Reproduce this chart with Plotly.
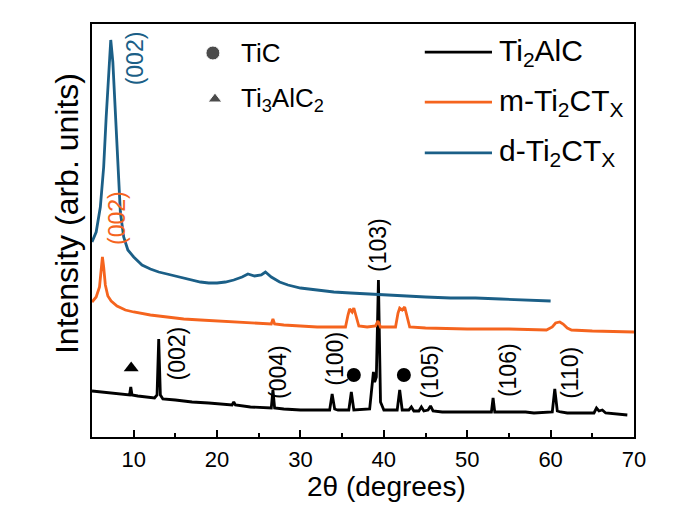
import plotly.graph_objects as go

# ---------------- data ----------------
# Ti2AlC (black)
ti2alc_x = [5, 6, 7, 8, 9, 9.5, 9.65, 9.8, 10.5, 11.5, 12.5, 12.8, 13.0, 13.2, 13.5, 15, 17, 19, 21,
            21.8, 22, 22.2, 24, 26, 26.5, 26.7, 26.9, 28, 30, 32, 33.5, 33.8, 34.1, 34.5, 35.8, 36.1,
            36.4, 38.3, 38.6, 38.75, 38.9, 39.1, 39.35, 39.6, 40, 41.6, 41.9, 42.2, 43.0, 43.3, 43.6,
            44.2, 44.5, 44.8, 45.3, 45.6, 45.9, 47, 49, 51, 52.9, 53.1, 53.3, 55, 57, 58, 60.2, 60.5,
            60.8, 61.2, 62, 65.2, 65.5, 65.8, 66.2, 66.6, 68, 69.2]
ti2alc_y = [46, 45, 44, 43, 42, 42, 50, 42, 41, 40, 39, 42, 98, 42, 38, 37, 35, 34, 33,
            32, 35, 32, 30, 29, 29, 47, 29, 28, 27, 27, 27, 43, 28, 27, 27, 45,
            27, 28, 50, 65, 55, 60, 157, 35, 27, 27, 47, 27, 27, 30, 26,
            26, 30, 26, 27, 31, 26, 25, 25, 25, 25, 39, 25, 25, 25, 24, 25, 48,
            26, 25, 24, 24, 29, 26, 27, 24, 23, 22]

# m-Ti2CTx (orange)
m_x = [5, 5.5, 5.9, 6.1, 6.25, 6.4, 6.6, 6.9, 7.3, 8, 9, 10, 12, 14, 16, 18, 20, 22, 24, 26.5,
       26.7, 26.9, 28, 30, 32, 34, 35.4, 35.7, 35.9, 36.2, 36.4, 36.7, 37, 38, 39, 39.3, 39.6,
       41.4, 41.7, 41.9, 42.2, 42.5, 42.8, 43.1, 45, 50, 55, 59.5, 60.2, 60.6, 61.1, 61.5, 62,
       62.5, 65, 70]
m_y = [135, 140, 150, 166, 180, 170, 152, 141, 136, 131, 127, 125, 122, 120, 118, 117, 116, 115, 114, 113,
       118, 113, 112, 111, 110, 110, 110, 122, 128, 125, 129, 120, 111, 110, 111, 116, 110,
       110, 124, 129, 127, 130, 120, 110, 109, 108, 108, 107, 110, 114, 115, 113, 109,
       107, 106, 105]

# d-Ti2CTx (blue)
d_x = [5, 5.5, 6, 6.4, 6.7, 7.0, 7.25, 7.5, 7.8, 8.1, 8.4, 8.8, 9.3, 10, 11, 12, 13, 14, 15, 16,
       17, 18, 19, 20, 21, 22, 23, 23.7, 24.5, 25.3, 25.8, 26.5, 27.5, 28.5, 30, 32, 34, 36, 38,
       40, 42, 45, 48, 51, 54, 57, 60]
d_y = [195, 205, 230, 270, 320, 370, 397, 375, 320, 265, 225, 200, 187, 180, 172, 168, 165, 163, 161, 159,
       157, 155, 154, 154, 155, 157, 160, 163, 161, 162, 165, 160, 155, 152, 149, 147, 145, 144, 143,
       142, 141, 140, 139, 139, 138, 137, 136]

# peak labels
label_text = ["(002)", "(004)", "(100)", "(103)", "(105)", "(106)", "(110)"]
label_x = [15.25, 27.3, 34.1, 39.3, 45.5, 54.9, 62.3]
label_y = [84, 65, 78, 192, 65, 67, 64]
m_label = ["(002)"]
m_label_x = [8.0]
m_label_y = [219]
d_label = ["(002)"]
d_label_x = [10.2]
d_label_y = [379]

# phase markers on the Ti2AlC pattern
tic_x = [36.4, 42.4]
tic_y = [62, 62]
ti3_x = [9.7]
ti3_y = [69]

# phase key (TiC / Ti3AlC2)
key_x = [19.5, 19.75]
key_y = [384, 338]
key_sym = ["circle", "triangle-up"]
key_size = [14, 12]
key_text = ["TiC", "Ti<sub>3</sub>AlC<sub>2</sub>"]

# legend
leg_names = ["Ti<sub>2</sub>AlC", "m-Ti<sub>2</sub>CT<sub>X</sub>", "d-Ti<sub>2</sub>CT<sub>X</sub>"]
BLACK, ORANGE, BLUE = "#000000", "#f5641e", "#1b5f87"
leg_colors = [BLACK, ORANGE, BLUE]

x_ticks = [10, 20, 30, 40, 50, 60, 70]

FONT = "Liberation Sans, Arial, sans-serif"

# ---------------- figure ----------------
fig = go.Figure()
fig.add_trace(go.Scatter(x=ti2alc_x, y=ti2alc_y, mode="lines", line=dict(color=BLACK, width=2.8),
                         showlegend=False))
fig.add_trace(go.Scatter(x=m_x, y=m_y, mode="lines", line=dict(color=ORANGE, width=2.8),
                         showlegend=False))
fig.add_trace(go.Scatter(x=d_x, y=d_y, mode="lines", line=dict(color=BLUE, width=2.8),
                         showlegend=False))
fig.add_trace(go.Scatter(x=tic_x, y=tic_y, mode="markers",
                         marker=dict(symbol="circle", size=14, color="black"), showlegend=False))
fig.add_trace(go.Scatter(x=ti3_x, y=ti3_y, mode="markers",
                         marker=dict(symbol="triangle-up", size=13, color="black"), showlegend=False))
fig.add_trace(go.Scatter(x=key_x, y=key_y, mode="markers",
                         marker=dict(symbol=key_sym, size=key_size, color="black"), showlegend=False))

ann = []
for t, x, y in zip(label_text, label_x, label_y):
    ann.append(dict(x=x, y=y, text=t, textangle=-90, showarrow=False,
                    font=dict(size=23, color=BLACK, family=FONT)))
for t, x, y in zip(m_label, m_label_x, m_label_y):
    ann.append(dict(x=x, y=y, text=t, textangle=-90, showarrow=False,
                    font=dict(size=23, color=ORANGE, family=FONT)))
for t, x, y in zip(d_label, d_label_x, d_label_y):
    ann.append(dict(x=x, y=y, text=t, textangle=-90, showarrow=False,
                    font=dict(size=23, color=BLUE, family=FONT)))
for t, y in zip(key_text, key_y):
    ann.append(dict(x=22.6, y=y, text=t, xanchor="left", yanchor="middle", showarrow=False,
                    font=dict(size=26, color=BLACK, family=FONT)))

# legend (drawn manually)
leg_y = [0.932, 0.811, 0.688]
shapes = []
for name, c, y in zip(leg_names, leg_colors, leg_y):
    shapes.append(dict(type="line", xref="paper", yref="paper", x0=0.614, x1=0.738, y0=y, y1=y,
                       line=dict(color=c, width=2.8)))
    ann.append(dict(xref="paper", yref="paper", x=0.748, y=y, text=name, xanchor="left",
                    yanchor="middle", showarrow=False, font=dict(size=30, color=BLACK, family=FONT)))

# axis titles
ann.append(dict(xref="paper", yref="paper", x=0.543, y=-0.119, text="2θ (degrees)", showarrow=False,
                xanchor="center", yanchor="middle", font=dict(size=28, color=BLACK, family=FONT)))
ann.append(dict(xref="paper", yref="paper", x=-0.046, y=0.54, text="Intensity (arb. units)",
                textangle=-90, showarrow=False, xanchor="center", yanchor="middle",
                font=dict(size=32, color=BLACK, family=FONT)))

fig.update_layout(
    width=694, height=506,
    margin=dict(l=92, r=60, t=24, b=69),
    paper_bgcolor="white", plot_bgcolor="white",
    font=dict(family=FONT, color="black"),
    annotations=ann, shapes=shapes,
    xaxis=dict(range=[5, 70], tickvals=x_ticks, ticks="inside", ticklen=7, tickwidth=1.5,
               tickcolor="black", showline=True, linecolor="black", linewidth=1.5, mirror=True,
               showgrid=False, zeroline=False, tickfont=dict(size=22, family=FONT, color="black"),
               ticklabelstandoff=2,
               minor=dict(ticks="inside", dtick=5, tick0=5, ticklen=4, tickwidth=1.5, tickcolor="black",
                          showgrid=False)),
    yaxis=dict(range=[0, 413], showticklabels=False, ticks="", showline=True, linecolor="black",
               linewidth=1.5, mirror=True, showgrid=False, zeroline=False),
)

fig.write_html("out.html")
